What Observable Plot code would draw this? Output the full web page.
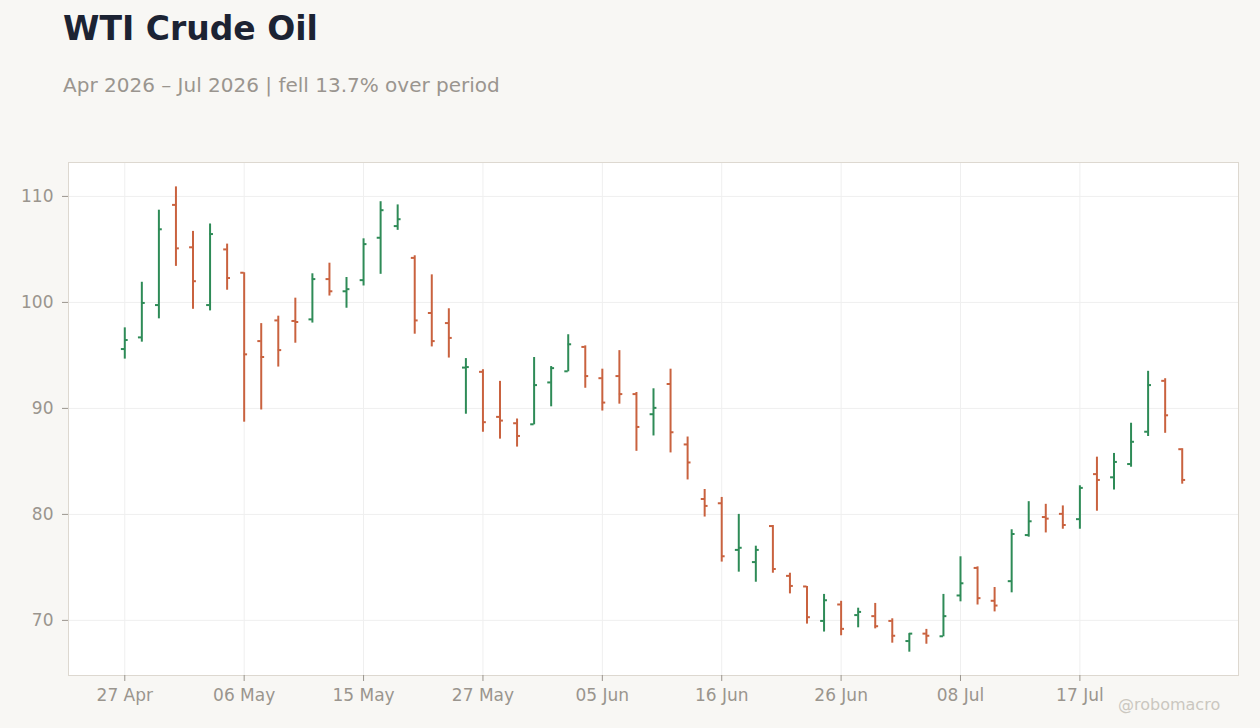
<!DOCTYPE html>
<html>
<head>
<meta charset="utf-8">
<script src="https://cdn.jsdelivr.net/npm/d3@7"></script>
<script src="https://cdn.jsdelivr.net/npm/@observablehq/plot@0.6"></script>
<style>
  html, body { margin: 0; padding: 0; background: #f8f7f4; }
  body { width: 1260px; height: 728px; position: relative; overflow: hidden; font-family: "DejaVu Sans", sans-serif; }
  #header { position: relative; height: 140px; }
  #title { position: absolute; left: 63px; top: 12px; font-size: 33px; line-height: 33px; font-weight: bold; color: #1c2333; white-space: nowrap; }
  #subtitle { position: absolute; left: 63px; top: 75px; font-size: 20px; line-height: 20px; color: #9a958f; white-space: nowrap; }
  #credit { position: absolute; left: 1118px; top: 697px; font-size: 16px; line-height: 16px; color: #cbc7c0; white-space: nowrap; }
</style>
</head>
<body>
<div id="header">
  <div id="title">WTI Crude Oil</div>
  <div id="subtitle">Apr 2026 – Jul 2026 | fell 13.7% over period</div>
</div>
<div id="chart"></div>
<div id="credit">@robomacro</div>
<script>
// Trading days (categories)
const dates = [
  "2026-04-27","2026-04-28","2026-04-29","2026-04-30",
  "2026-05-01","2026-05-04","2026-05-05","2026-05-06","2026-05-07","2026-05-08",
  "2026-05-11","2026-05-12","2026-05-13","2026-05-14","2026-05-15",
  "2026-05-18","2026-05-19","2026-05-20","2026-05-21","2026-05-22",
  "2026-05-26","2026-05-27","2026-05-28","2026-05-29",
  "2026-06-01","2026-06-02","2026-06-03","2026-06-04","2026-06-05",
  "2026-06-08","2026-06-09","2026-06-10","2026-06-11","2026-06-12",
  "2026-06-15","2026-06-16","2026-06-17","2026-06-18",
  "2026-06-22","2026-06-23","2026-06-24","2026-06-25","2026-06-26",
  "2026-06-29","2026-06-30","2026-07-01","2026-07-02",
  "2026-07-06","2026-07-07","2026-07-08","2026-07-09","2026-07-10",
  "2026-07-13","2026-07-14","2026-07-15","2026-07-16","2026-07-17",
  "2026-07-20","2026-07-21","2026-07-22","2026-07-23","2026-07-24","2026-07-27"
];
const open = [
  95.6, 96.7, 99.75, 109.2, 105.2, 99.75, 105.0, 102.8, 96.35, 98.3,
  98.25, 98.4, 102.2, 101.05, 102.1, 106.1, 107.2, 104.2, 99.0, 98.05,
  93.85, 93.45, 89.2, 88.6, 88.5, 92.45, 93.5, 95.8, 92.85, 93.05,
  91.35, 89.45, 92.3, 86.6, 81.45, 81.05, 76.65, 75.5, 78.9, 74.2,
  73.2, 69.95, 71.5, 70.5, 70.4, 69.95, 68.05, 68.75, 68.5, 72.35,
  74.95, 71.85, 73.7, 78.05, 79.75, 80.05, 79.55, 83.8, 83.5, 84.75,
  87.8, 92.6, 86.15
];
const high = [
  97.6, 101.9, 108.7, 110.9, 106.7, 107.4, 105.5, 102.8, 98.0, 98.7,
  100.4, 102.7, 103.7, 102.35, 106.0, 109.5, 109.2, 104.4, 102.6, 99.4,
  94.7, 93.65, 92.55, 89.0, 94.8, 93.95, 96.95, 95.9, 93.7, 95.45,
  91.5, 91.85, 93.7, 87.3, 82.35, 81.6, 80.0, 77.0, 78.95, 74.45,
  73.2, 72.45, 71.8, 71.15, 71.6, 70.15, 68.75, 69.15, 72.45, 76.0,
  75.05, 73.1, 78.55, 81.2, 80.95, 80.8, 82.7, 85.4, 85.75, 88.6,
  93.5, 92.8, 86.2
];
const low = [
  94.65, 96.25, 98.45, 103.4, 99.35, 99.2, 101.15, 88.7, 89.85, 93.9,
  96.15, 98.05, 100.6, 99.45, 101.55, 102.65, 106.8, 97.0, 95.8, 94.75,
  89.45, 87.75, 87.1, 86.35, 88.45, 90.15, 93.45, 91.9, 89.75, 90.4,
  85.95, 87.4, 85.8, 83.25, 79.75, 75.5, 74.55, 73.6, 74.45, 72.5,
  69.65, 68.9, 68.55, 69.3, 69.2, 67.85, 67.0, 67.75, 68.45, 71.75,
  71.45, 70.8, 72.6, 77.85, 78.25, 78.6, 78.6, 80.3, 82.3, 84.45,
  87.35, 87.65, 82.85
];
const close = [
  96.45, 99.95, 106.9, 105.1, 102.0, 106.45, 102.3, 95.1, 94.85, 95.5,
  98.15, 102.2, 101.05, 101.25, 105.5, 108.7, 107.85, 98.3, 96.35, 96.65,
  93.9, 88.7, 88.85, 87.4, 92.2, 93.8, 96.05, 93.05, 90.55, 91.35,
  88.25, 90.05, 87.75, 84.9, 80.8, 76.05, 76.85, 76.65, 74.85, 73.25,
  70.3, 71.9, 69.2, 70.8, 69.45, 68.55, 68.75, 68.55, 70.4, 73.5,
  72.1, 71.4, 78.15, 79.35, 79.6, 79.0, 82.5, 83.25, 84.95, 86.85,
  92.2, 89.35, 83.25
];
const yTicks = [70, 80, 90, 100, 110];
const xTickIndex = [0, 7, 14, 21, 28, 35, 42, 49, 56];

const upColor = "#2e8b57";
const downColor = "#c9623f";

const parse = d3.utcParse("%Y-%m-%d");
const fmt = d3.utcFormat("%d %b");
const data = dates.map((d, i) => ({
  i, date: parse(d), open: open[i], high: high[i], low: low[i], close: close[i],
  color: close[i] >= open[i] ? upColor : downColor
}));

const tickLen = 0.2; // in index units (half-bar tick)

const chart = Plot.plot({
  width: 1260,
  height: 588,
  marginTop: 22,
  marginBottom: 53,
  marginLeft: 68,
  marginRight: 22,
  style: { background: "transparent", fontFamily: "DejaVu Sans, sans-serif", fontSize: "17px" },
  x: { type: "linear", domain: [-3.3, 65.3] },
  y: { domain: [64.8, 113.2] },
  marks: [
    Plot.frame({ fill: "white", stroke: null }),
    Plot.gridY(yTicks, { stroke: "#efefef", strokeOpacity: 1 }),
    Plot.gridX(xTickIndex, { stroke: "#efefef", strokeOpacity: 1 }),
    Plot.ruleX(data, { x: "i", y1: "low", y2: "high", stroke: "color", strokeWidth: 2 }),
    Plot.ruleY(data, { y: "open", x1: d => d.i - tickLen, x2: "i", stroke: "color", strokeWidth: 2 }),
    Plot.ruleY(data, { y: "close", x1: "i", x2: d => d.i + tickLen, stroke: "color", strokeWidth: 2 }),
    Plot.frame({ stroke: "#ddd8d0" }),
    Plot.axisY(yTicks, { tickSize: 6, tickPadding: 9, color: "#9a958e", label: null }),
    Plot.axisX(xTickIndex, { tickSize: 6, tickPadding: 7, color: "#9a958e", label: null,
      tickFormat: i => fmt(data[i].date) })
  ]
});
document.getElementById("chart").appendChild(chart);
</script>
</body>
</html>
